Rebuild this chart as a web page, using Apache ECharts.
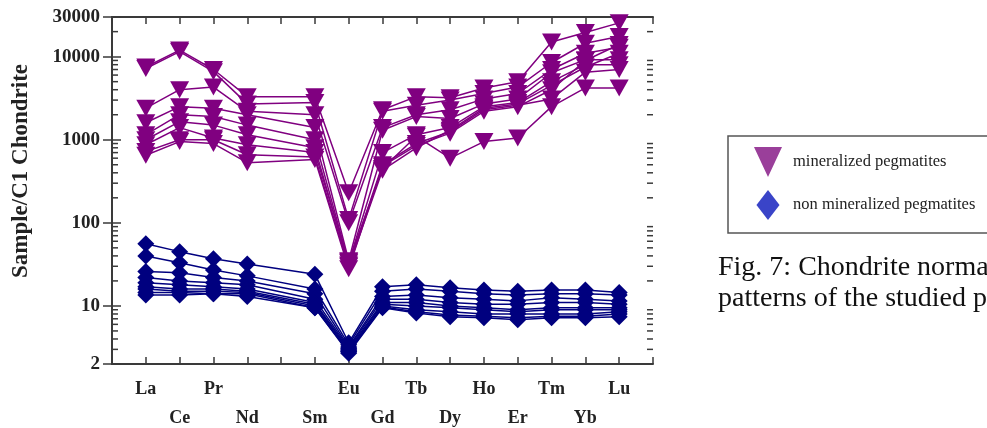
<!DOCTYPE html>
<html>
<head>
<meta charset="utf-8">
<script src="https://cdn.jsdelivr.net/npm/echarts@6/dist/echarts.min.js"></script>
<style>
html, body { margin: 0; padding: 0; background: #fff; }
#chart { width: 987px; height: 428px; }
</style>
</head>
<body>
<div id="chart"></div>
<script>
// REE order on the x axis (Pm has no data, only a tick)
const elements = ['La', 'Ce', 'Pr', 'Nd', 'Pm', 'Sm', 'Eu', 'Gd', 'Tb', 'Dy', 'Ho', 'Er', 'Tm', 'Yb', 'Lu'];
const yTicks = [2, 10, 100, 1000, 10000, 30000];

// mineralized pegmatites (sample / C1 chondrite)
const min1 = [7500, 12000, 7000, 3300, null, 3300, 230, 2300, 3300, 3200, 4200, 5000, 15000, 19500, 25500];
const min2 = [7200, 11500, 6600, 2700, null, 2800, 110, 2200, 2600, 3000, 3600, 4300, 8500, 14500, 17500];
const min3 = [2400, 4000, 4300, 2200, null, 2000, 100, 1400, 2000, 2300, 3100, 3600, 7000, 11000, 13000];
const min4 = [1600, 2500, 2400, 2000, null, 1400, 35, 1300, 1900, 1800, 2700, 3100, 6400, 9200, 9200];
const min5 = [1150, 2000, 1900, 1500, null, 1000, 33, 700, 1150, 1400, 2500, 2800, 5000, 8000, 8000];
const min6 = [1000, 1650, 1500, 1150, null, 800, 31, 500, 900, 1250, 2300, 2600, 3100, 6500, 7000];
const min7 = [870, 1400, 1050, 870, null, 700, 34, 450, 1100, 600, 950, 1050, 2500, 4200, 4200];
const min8 = [720, 1000, 1000, 660, null, 620, 30, 430, 800, 1300, 2400, 2700, 4500, 7500, 11000];
const min9 = [650, 950, 900, 530, null, 580, 28, 480, 850, 1200, 2200, 2500, 4000, 9000, 14000];

// non mineralized pegmatites
const non1 = [56, 45, 37, 32, null, 24, 3.6, 17, 18, 16.5, 15.5, 15, 15.5, 15.5, 14.5];
const non2 = [40, 33, 27, 23, null, 16, 3.4, 15, 16, 15, 14, 13.5, 14, 14, 13.5];
const non3 = [26, 25, 22, 20, null, 14, 3.2, 13, 13.5, 12.5, 12, 11.5, 12.5, 12, 11.5];
const non4 = [22, 20, 19, 18, null, 12, 3.1, 12, 12, 11, 10.5, 10.5, 11, 11, 10.5];
const non5 = [19, 18, 17, 16, null, 11, 3.0, 11, 11, 10, 9.5, 9, 9.5, 9.5, 9.5];
const non6 = [17, 16, 16, 15, null, 10.5, 2.9, 10.5, 10, 9.5, 9, 8.5, 9, 9, 9];
const non7 = [16, 15, 15, 14.5, null, 10, 2.8, 10, 9, 8.5, 8, 8, 8, 8, 8.5];
const non8 = [14.5, 14.5, 14, 14, null, 9.5, 2.8, 9.7, 8.5, 7.8, 7.5, 7.2, 7.5, 7.5, 8];
const non9 = [13.5, 13.5, 14, 13, null, 9.5, 2.7, 9.5, 8.2, 7.4, 7.2, 6.8, 7.2, 7.2, 7.4];

const mineralized = [min1, min2, min3, min4, min5, min6, min7, min8, min9];
const nonMineralized = [non1, non2, non3, non4, non5, non6, non7, non8, non9];

const serif = "'Liberation Serif', 'Times New Roman', serif";
const frameColor = '#3a3a3a';
const triPath = 'path://M0,0L20,0L10,18Z';

const toPoints = (arr) => arr.map((v, i) => [i + 1, v]);

const makeSeries = (arr, name, color, symbol, size) => ({
    name: name,
    type: 'line',
    data: toPoints(arr),
    connectNulls: true,
    symbol: symbol,
    symbolSize: size,
    symbolKeepAspect: false,
    lineStyle: { color: color, width: 1.5 },
    itemStyle: { color: color },
    emphasis: { disabled: true },
    animation: false
});

const series = [];
nonMineralized.forEach(arr => series.push(makeSeries(arr, 'non mineralized pegmatites', '#00007f', 'diamond', [17, 17])));
mineralized.forEach(arr => series.push(makeSeries(arr, 'mineralized pegmatites', '#800080', triPath, [19, 17])));

// label only the elements of one row (odd or even position), never Pm
const rowLabel = (v, odd) => {
    const name = elements[v - 1];
    if (!name || name === 'Pm') return '';
    return (v % 2 === 1) === odd ? name : '';
};

// x axis shared settings
const xBase = {
    type: 'value',
    min: 0,
    max: 16,
    interval: 1,
    splitLine: { show: false },
    axisLine: { show: true, onZero: false, lineStyle: { color: frameColor, width: 2 } },
    axisTick: { show: true, inside: true, length: 7, lineStyle: { color: frameColor, width: 1.5 } }
};
const yBase = {
    type: 'log',
    logBase: 10,
    min: 2,
    max: 30000,
    splitLine: { show: false },
    axisLine: { show: true, lineStyle: { color: frameColor, width: 2 } },
    axisTick: { show: true, inside: true, length: 9, lineStyle: { color: frameColor, width: 1.5 } }
};
const labelFont = { fontFamily: serif, fontWeight: 'bold', fontSize: 18, color: '#222' };

const chart = echarts.init(document.getElementById('chart'));
const option = {
    animation: false,
    backgroundColor: '#fff',
    grid: { left: 112, right: 334, top: 17, bottom: 64, outerBoundsMode: 'none' },
    xAxis: [
        Object.assign({}, xBase, {
            position: 'bottom',
            axisLabel: Object.assign({ margin: 16, formatter: v => rowLabel(v, true) }, labelFont)
        }),
        Object.assign({}, xBase, {
            position: 'bottom',
            axisLine: { show: false },
            axisTick: { show: false },
            axisLabel: Object.assign({ margin: 45, formatter: v => rowLabel(v, false) }, labelFont)
        }),
        Object.assign({}, xBase, { position: 'top', axisLabel: { show: false } })
    ],
    yAxis: [
        Object.assign({}, yBase, {
            position: 'left',
            axisLabel: Object.assign({
                margin: 12,
                showMinLabel: true,
                showMaxLabel: true,
                formatter: v => String(Math.round(v))
            }, labelFont, { fontSize: 19 })
        }),
        Object.assign({}, yBase, { position: 'right', axisLabel: { show: false } })
    ],
    legend: {
        orient: 'vertical',
        left: 749,
        top: 142,
        itemWidth: 30,
        itemHeight: 30,
        itemGap: 13,
        selectedMode: false,
        symbolKeepAspect: true,
        textStyle: { fontFamily: serif, fontSize: 16.5, color: '#222', padding: [0, 0, 0, 5] },
        data: [
            { name: 'mineralized pegmatites', icon: 'path://M0,0L28,0L14,30Z', itemStyle: { color: '#9a3f9a' } },
            { name: 'non mineralized pegmatites', icon: 'path://M5,0L10,6.5L5,13L0,6.5Z', itemStyle: { color: '#3a44c8' } }
        ]
    },
    graphic: [
        {
            type: 'text',
            x: 21,
            y: 171,
            rotation: Math.PI / 2,
            style: {
                text: 'Sample/C1 Chondrite',
                font: 'bold 23px ' + serif,
                fill: '#222',
                align: 'center',
                verticalAlign: 'middle'
            }
        },
        {
            type: 'rect',
            shape: { x: 728, y: 136, width: 300, height: 97 },
            style: { fill: 'none', stroke: '#555', lineWidth: 1.5 }
        },
        {
            type: 'text',
            x: 718,
            y: 252,
            style: {
                text: 'Fig. 7: Chondrite normalized REE\npatterns of the studied pegmatites',
                font: '28px ' + serif,
                lineHeight: 31,
                fill: '#111',
                align: 'left',
                verticalAlign: 'top'
            }
        }
    ],
    series: series
};
chart.setOption(option);

// minor log ticks (2..9 per decade) on both vertical sides, placed through the grid's scales
const minor = [];
for (let d = 0; d <= 4; d++) {
    for (let k = 2; k <= 9; k++) {
        const v = k * Math.pow(10, d);
        if (v <= yTicks[0] || v >= yTicks[yTicks.length - 1]) continue;
        const pl = chart.convertToPixel({ gridIndex: 0 }, [0, v]);
        const pr = chart.convertToPixel({ gridIndex: 0 }, [16, v]);
        minor.push({ type: 'line', z: 100, shape: { x1: pl[0], y1: pl[1], x2: pl[0] + 6, y2: pl[1] }, style: { stroke: frameColor, lineWidth: 1.5 } });
        minor.push({ type: 'line', z: 100, shape: { x1: pr[0], y1: pr[1], x2: pr[0] - 6, y2: pr[1] }, style: { stroke: frameColor, lineWidth: 1.5 } });
    }
}
chart.setOption({ graphic: option.graphic.concat(minor) });
</script>
</body>
</html>
